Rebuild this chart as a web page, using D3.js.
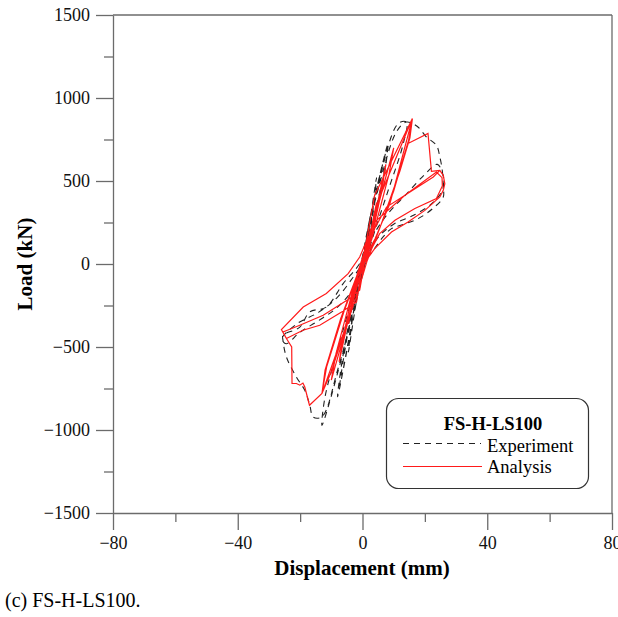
<!DOCTYPE html>
<html>
<head>
<meta charset="utf-8">
<script src="https://cdn.jsdelivr.net/npm/d3@7"></script>
<style>
  body { margin: 0; background: #fff; }
  text { font-family: "Liberation Serif", "Times New Roman", serif; }
</style>
</head>
<body>
<svg id="chart" width="618" height="617"></svg>
<script>
// Axis ticks
const xMajor = [-80, -40, 0, 40, 80];
const xMinor = [-60, -20, 20, 60];
const yMajor = [-1500, -1000, -500, 0, 500, 1000, 1500];
const yMinor = [-1250, -750, -250, 250, 750, 1250];

// Experiment (displacement mm, load kN)
const experiment = [
  [0, 0],
  [1.5, 180], [2.5, 290], [1.5, 120], [0.3, 0], [-1.5, -170], [-2.5, -280], [-1.5, -110], [-0.3, 0],
  [2, 220], [4.5, 520], [3.5, 360], [1, 60], [-2, -230], [-4.5, -530], [-3.5, -370], [-1, -60],
  [3, 330], [8.2, 725], [7, 560], [2.5, 200], [-1, -60], [-3, -300], [-7.5, -760], [-6, -560], [-2, -160], [1, 20],
  [4, 400], [8, 700], [7, 540], [2, 150], [-1, -80], [-4, -420], [-8, -800], [-6.5, -580], [-2, -150], [1, 30],
  [5, 470], [11.4, 845], [14.1, 855], [13, 720], [8, 430], [2, 80],
  [-3, -300], [-11, -860], [-13, -972], [-12, -800], [-7, -450], [-1, -40],
  [5, 450], [11, 800], [14.1, 855], [17.5, 830], [20.5, 765], [23.7, 715], [24.8, 645], [25.6, 560], [25.9, 460],
  [25.9, 404], [22.7, 337], [17.8, 273], [12.5, 235], [9.3, 213], [6.6, 163], [3, 70], [0, 0],
  [-3, -280], [-8, -640], [-13, -920], [-15.8, -922], [-16.9, -851], [-18.5, -761], [-21.2, -681], [-24.4, -560],
  [-25.5, -460], [-25.5, -430], [-20.1, -380], [-16.9, -289], [-11.6, -259], [-6.2, -118], [-1, 0],
  [3, 160], [8, 300], [14, 420], [20, 540], [24, 600], [26, 520], [25.5, 440], [22, 360], [16, 290], [10, 240], [5, 160], [1, 30],
  [-3, -150], [-8, -260], [-14, -340], [-20, -410], [-24.5, -480], [-25.8, -450], [-21, -360], [-14, -290], [-8, -200], [-3, -80], [0, 0]
];

// Analysis (displacement mm, load kN)
const analysis = [
  [0, 0],
  [1.5, 120], [2.5, 210], [1.6, 90], [0.5, 0], [-1.5, -110], [-2.5, -200], [-1.6, -85], [-0.5, 0],
  [2, 140], [4.5, 370], [3.4, 240], [1, 20], [-2, -130], [-4.5, -360], [-3.4, -230], [-1, -20],
  [3, 210], [7.5, 600], [6, 430], [2, 80], [-3, -200], [-7.5, -590], [-6, -420], [-2, -80],
  [4, 280], [10, 700], [8.5, 540], [3, 150], [-1, -40], [-4, -300], [-10, -700], [-8.5, -540], [-3, -150], [1, 40],
  [5, 380], [16, 876], [15, 760], [10, 440], [4, 140], [0, -20],
  [-5, -360], [-13, -780], [-12, -640], [-7, -330], [-2, -80], [0, 10],
  [3.9, 414], [16, 876], [15.2, 760], [12, 560], [6, 240], [1.5, 20],
  [-2, -200], [-13, -780], [-11.5, -620], [-6, -290], [-1.5, -60], [0.5, 30],
  [4, 150], [8.8, 364], [16, 876], [14.6, 726], [21, 787], [22.1, 558], [24.8, 564], [25.9, 534], [26.4, 484],
  [25.9, 444], [24.8, 404], [20, 323], [14.6, 253], [9.3, 193], [3.9, 93], [0, -10],
  [-4, -300], [-10, -650], [-13, -780], [-17, -851], [-18.5, -741], [-19.1, -717], [-20.1, -730], [-21.2, -720],
  [-22.6, -720], [-22.7, -500], [-24.4, -449], [-26, -395], [-19, -259], [-11.6, -178], [-4.6, -58], [-0.9, 42],
  [3.9, 253], [13.6, 414], [23.7, 554], [25.5, 520], [25.6, 470], [23.7, 394], [16.8, 334], [10.4, 263], [5.5, 183], [2, 60], [0, 0],
  [-1.9, -229], [-6.7, -289], [-13.7, -369], [-19.1, -399], [-24.4, -449], [-25.5, -410], [-20.1, -369], [-12.6, -309], [-4.1, -208], [-0.9, -158],
  [2, 150], [7.7, 343], [22.7, 524], [24.8, 564]
];

const svg = d3.select("#chart");
const axisColor = "#6b6b6b";

const x = d3.scaleLinear().domain([-80, 80]).range([113, 612]);
const y = d3.scaleLinear().domain([-1500, 1500]).range([513, 15]);
const fmt = d3.format("d");

// frame (top and right)
svg.append("line").attr("x1", x(-80)).attr("x2", x(80)).attr("y1", y(1500)).attr("y2", y(1500))
  .attr("stroke", axisColor).attr("stroke-width", 1.3);
svg.append("line").attr("x1", x(80)).attr("x2", x(80)).attr("y1", y(1500)).attr("y2", y(-1500))
  .attr("stroke", axisColor).attr("stroke-width", 1.3);

// x axis
svg.append("g").attr("transform", `translate(0,${y(-1500)})`)
  .call(d3.axisBottom(x).tickValues(xMajor).tickFormat(fmt).tickSize(17).tickSizeOuter(0).tickPadding(6));
svg.append("g").attr("transform", `translate(0,${y(-1500)})`)
  .call(d3.axisBottom(x).tickValues(xMinor).tickSize(9).tickFormat("")).select(".domain").remove();

// y axis
svg.append("g").attr("transform", `translate(${x(-80)},0)`)
  .call(d3.axisLeft(y).tickValues(yMajor).tickFormat(fmt).tickSize(17).tickSizeOuter(0).tickPadding(6));
svg.append("g").attr("transform", `translate(${x(-80)},0)`)
  .call(d3.axisLeft(y).tickValues(yMinor).tickSize(9).tickFormat("")).select(".domain").remove();

svg.selectAll(".domain, .tick line").attr("stroke", axisColor).attr("stroke-width", 1.3);
svg.selectAll(".tick text")
  .attr("font-family", "Liberation Serif, serif")
  .attr("font-size", 18)
  .attr("fill", "#111");

// axis titles
svg.append("text")
  .attr("x", 362).attr("y", 575)
  .attr("text-anchor", "middle")
  .attr("font-size", 21).attr("font-weight", "bold")
  .text("Displacement (mm)");

svg.append("text")
  .attr("transform", "translate(32,264) rotate(-90)")
  .attr("text-anchor", "middle")
  .attr("font-size", 21).attr("font-weight", "bold")
  .text("Load (kN)");

// curves
const line = d3.line()
  .x(d => x(d[0]))
  .y(d => y(d[1]));

svg.append("path")
  .datum(experiment)
  .attr("fill", "none")
  .attr("stroke", "#222")
  .attr("stroke-width", 1.1)
  .attr("stroke-dasharray", "6,5")
  .attr("d", line.curve(d3.curveCatmullRom.alpha(0.5)));

svg.append("path")
  .datum(analysis)
  .attr("fill", "none")
  .attr("stroke", "#ff1a1a")
  .attr("stroke-width", 1.2)
  .attr("d", line.curve(d3.curveLinear));

// legend
const legend = svg.append("g");
legend.append("rect")
  .attr("x", 386.5).attr("y", 398.5)
  .attr("width", 202).attr("height", 90)
  .attr("rx", 12)
  .attr("fill", "#fff")
  .attr("stroke", "#333").attr("stroke-width", 1.2);

legend.append("text")
  .attr("x", 493).attr("y", 430)
  .attr("text-anchor", "middle")
  .attr("font-size", 18.5).attr("font-weight", "bold")
  .text("FS-H-LS100");

legend.append("line")
  .attr("x1", 403).attr("x2", 481).attr("y1", 443.5).attr("y2", 443.5)
  .attr("stroke", "#222").attr("stroke-width", 1.1).attr("stroke-dasharray", "6,5");
legend.append("text")
  .attr("x", 487).attr("y", 451.5)
  .attr("font-size", 18.5)
  .text("Experiment");

legend.append("line")
  .attr("x1", 403).attr("x2", 482).attr("y1", 466.5).attr("y2", 466.5)
  .attr("stroke", "#ff1a1a").attr("stroke-width", 1.2);
legend.append("text")
  .attr("x", 487).attr("y", 472.5)
  .attr("font-size", 18.5)
  .text("Analysis");

// caption
svg.append("text")
  .attr("x", 5).attr("y", 607)
  .attr("font-size", 20)
  .text("(c) FS-H-LS100.");
</script>
</body>
</html>
